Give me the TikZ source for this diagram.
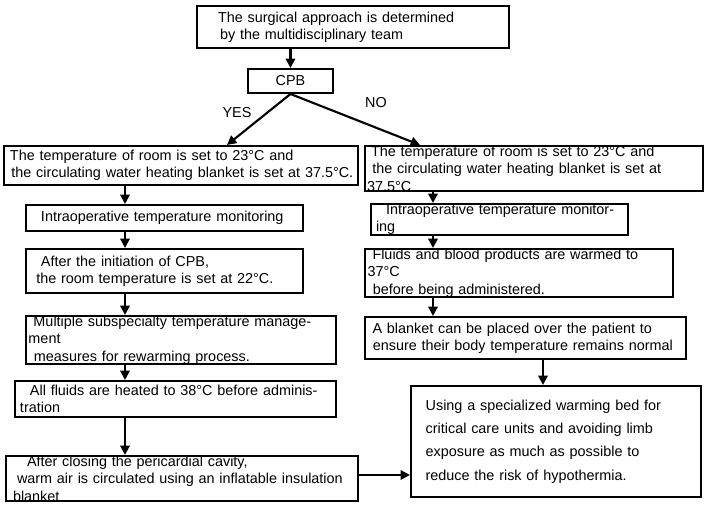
\documentclass[tikz,border=0pt]{standalone}
\usepackage{fontspec}
\setmainfont{Liberation Sans}
\usetikzlibrary{arrows.meta}
\begin{document}
\begin{tikzpicture}[x=0.75pt,y=-0.75pt,
  box/.style={draw,line width=1.5pt,inner ysep=0pt,inner xsep=0pt,font=\fontsize{10.8}{13}\selectfont,align=left,anchor=north west},
  arr/.style={line width=1.6pt,-{Triangle[length=7pt,width=7pt]}},
  lab/.style={font=\fontsize{10.8}{12}\selectfont}]
\useasboundingbox (0,0) rectangle (708,505);
% #1 name, #2 x, #3 y, #4 w, #5 h, #6 left pad, #7 text
\newcommand{\bx}[7]{\node[box,minimum width=#4*0.75pt,minimum height=#5*0.75pt,text width=(#4-#6)*0.75pt] (#1) at (#2,#3) {\hspace*{#6\dimexpr0.75pt\relax}#7};}
\bx{top}{196}{5}{312}{42}{14}{The surgical approach is determined\\\hspace*{12pt}by the multidisciplinary team}
\node[box,align=center,minimum width=85*0.75pt,minimum height=24*0.75pt] (cpb) at (247,68) {CPB};
\bx{l1}{3}{145}{354}{39}{4}{The temperature of room is set to 23°C and\\\hspace*{4pt}the circulating water heating blanket is set at 37.5°C.}
\bx{r1}{364}{145}{338}{39}{4}{The temperature of room is set to 23°C and\\\hspace*{4pt}the circulating water heating blanket is set at 37.5°C}
\bx{l2}{25}{204}{277}{26}{10}{Intraoperative temperature monitoring}
\bx{r2}{370}{203}{257}{26}{10}{Intraoperative temperature monitoring}
\bx{l3}{25}{248}{277}{44}{10}{After the initiation of CPB,\\\hspace*{4pt}the room temperature is set at 22°C.}
\bx{r3}{364}{248}{308}{44}{5}{Fluids and blood products are warmed to 37°C\\\hspace*{4pt}before being administered.}
\bx{l4}{25}{315}{310}{43}{5}{Multiple subspecialty temperature management\\\hspace*{4pt}measures for rewarming process.}
\bx{r4}{364}{316}{321}{42}{5}{A blanket can be placed over the patient to\\\hspace*{4pt}ensure their body temperature remains normal}
\bx{l5}{14}{380}{321}{36}{10}{All fluids are heated to 38°C before administration}
\bx{l6}{5}{455}{352}{44}{14}{After closing the pericardial cavity,\\\hspace*{3pt}warm air is circulated using an inflatable insulation blanket}
\node[box,minimum width=290*0.75pt,minimum height=111*0.75pt,text width=290*0.75pt,font=\fontsize{10.8}{17.5}\selectfont] (r5) at (410,385) {\hspace*{11pt}Using a specialized warming bed for\\\hspace*{11pt}critical care units and avoiding limb\\\hspace*{11pt}exposure as much as possible to\\\hspace*{11pt}reduce the risk of hypothermia.};
\draw[arr] (top.south -| cpb) -- (cpb.north);
\draw[arr] (cpb.south) -- (227,145);
\draw[arr] (cpb.south) -- (420,145);
\node[lab] (yes) at (237,113) {YES};
\node[lab] (no) at (376,103) {NO};
\draw[arr] (l1.south -| 125,0) -- (l2.north -| 125,0);
\draw[arr] (l2.south -| 125,0) -- (l3.north -| 125,0);
\draw[arr] (l3.south -| 125,0) -- (l4.north -| 125,0);
\draw[arr] (l4.south -| 125,0) -- (l5.north -| 125,0);
\draw[arr] (l5.south -| 125,0) -- (l6.north -| 125,0);
\draw[arr] (r1.south -| 433,0) -- (r2.north -| 433,0);
\draw[arr] (r2.south -| 433,0) -- (r3.north -| 433,0);
\draw[arr] (r3.south -| 433,0) -- (r4.north -| 433,0);
\draw[arr] (r4.south -| 543,0) -- (r5.north -| 543,0);
\draw[arr] (l6.east |- 0,475) -- (r5.west |- 0,475);
\end{tikzpicture}
\end{document}
